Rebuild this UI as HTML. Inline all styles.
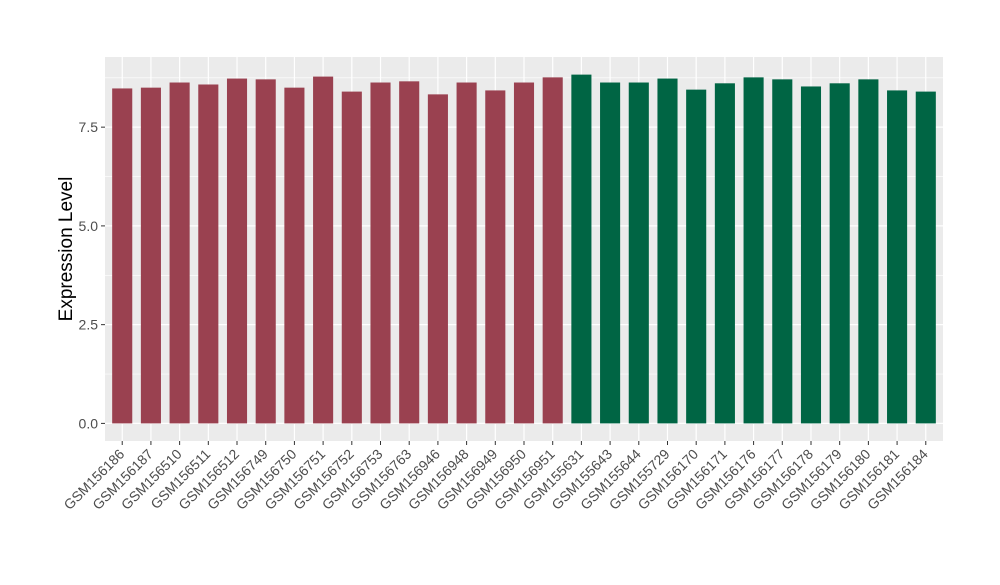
<!DOCTYPE html>
<html><head><meta charset="utf-8"><style>
body{margin:0;background:#fff;font-family:"Liberation Sans",Arial,sans-serif}
</style></head><body>
<svg id="chart" width="1000" height="580" xmlns="http://www.w3.org/2000/svg"></svg>
<script>
const categories=["GSM156186","GSM156187","GSM156510","GSM156511","GSM156512","GSM156749","GSM156750","GSM156751","GSM156752","GSM156753","GSM156763","GSM156946","GSM156948","GSM156949","GSM156950","GSM156951","GSM155631","GSM155643","GSM155644","GSM155729","GSM156170","GSM156171","GSM156176","GSM156177","GSM156178","GSM156179","GSM156180","GSM156181","GSM156184"];
const values=[8.48,8.50,8.63,8.58,8.73,8.71,8.50,8.78,8.40,8.63,8.66,8.33,8.63,8.43,8.63,8.76,8.83,8.63,8.63,8.73,8.45,8.61,8.76,8.71,8.53,8.61,8.71,8.43,8.40];
const groups=["a","a","a","a","a","a","a","a","a","a","a","a","a","a","a","a","b","b","b","b","b","b","b","b","b","b","b","b","b"];
const yTicks=[0,2.5,5,7.5];
const yTickLabels=["0.0","2.5","5.0","7.5"];
const colors={a:"#9A4150",b:"#006544"};
const NS="http://www.w3.org/2000/svg";
const svg=document.getElementById('chart');
const L=105,R=943,T=57,B=441;
const y0=423.4,pxPerUnit=39.5;
const y=v=>y0-v*pxPerUnit;
const n=categories.length;
const step=(R-L)/(n+0.2);
const x=i=>L+step*(0.6+i);
function mk(tag,attrs){const e=document.createElementNS(NS,tag);for(const k in attrs)e.setAttribute(k,attrs[k]);svg.appendChild(e);return e;}
const bg=mk('rect',{x:L,y:T,width:R-L,height:B-T,fill:'#EBEBEB'});


for(let i=0;i<yTicks.length;i++){
  const mv=yTicks[i]+1.25;
  if(y(mv)>T){const g=mk('line',{x1:L,x2:R,y1:y(mv),y2:y(mv),stroke:'#fff','stroke-width':0.6});
  
  }
}
yTicks.forEach((t,i)=>{
  const g=mk('line',{x1:L,x2:R,y1:y(t),y2:y(t),stroke:'#fff','stroke-width':1.2});
  
  
  const tk=mk('line',{x1:L-4,x2:L,y1:y(t),y2:y(t),stroke:'#333','stroke-width':1});
  
  
  const tx=mk('text',{x:L-7,y:y(t)+5,'text-anchor':'end','font-size':14,fill:'#4D4D4D'});
  tx.textContent=yTickLabels[i];
  
  
});
categories.forEach((c,i)=>{
  const cx=x(i);
  const g=mk('line',{x1:cx,x2:cx,y1:T,y2:B,stroke:'#fff','stroke-width':1.2});
  
  
});
categories.forEach((c,i)=>{
  const cx=x(i),w=step*0.7;
  const b=mk('rect',{x:cx-w/2,y:y(values[i]),width:w,height:y(0)-y(values[i]),fill:colors[groups[i]]});
  
  
  const tk=mk('line',{x1:cx,x2:cx,y1:B,y2:B+4,stroke:'#333','stroke-width':1});
  
  
  const tx=mk('text',{x:cx+3,y:B+14,'text-anchor':'end','font-size':14,fill:'#4D4D4D',transform:`rotate(-45 ${cx+3} ${B+14})`});
  tx.textContent=c;
  
  
});
const yt=mk('text',{x:72,y:(T+B)/2,'text-anchor':'middle','font-size':19,fill:'#000',transform:`rotate(-90 72 ${(T+B)/2})`});
yt.textContent='Expression Level';


</script>
</body></html>
